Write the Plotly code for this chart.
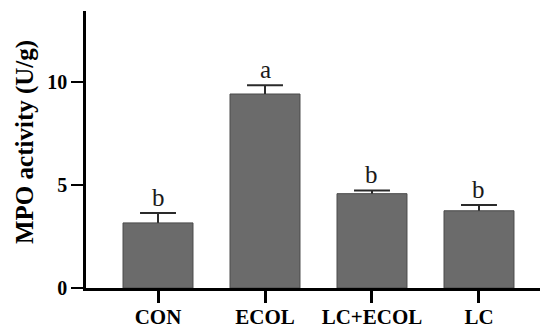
import plotly.graph_objects as go

categories = ["CON", "ECOL", "LC+ECOL", "LC"]
means = [3.16, 9.42, 4.58, 3.75]
errors = [0.48, 0.43, 0.16, 0.28]
letters = ["b", "a", "b", "b"]
y_ticks = [0, 5, 10]

# The page body has an 8px default margin, so the figure is sized/offset to compensate
W, H = 540, 320
L, R, T, B = 78, 0, 3, 40
CAP = 0.168  # half cap width in category units

fig = go.Figure()
fig.add_trace(go.Bar(
    x=list(range(len(categories))),
    y=means,
    width=0.654,
    marker=dict(color="#6b6b6b", line=dict(color="#4a4a4a", width=1)),
    showlegend=False,
))

# error bars (upper only) as line segments built from the data
ex, ey = [], []
for i, (m, e) in enumerate(zip(means, errors)):
    ex += [i, i, None, i - CAP, i + CAP, None]
    ey += [m, m + e, None, m + e, m + e, None]
fig.add_trace(go.Scatter(x=ex, y=ey, mode="lines",
                         line=dict(color="#2a2a2a", width=2),
                         showlegend=False, hoverinfo="skip"))

for i, (m, e, t) in enumerate(zip(means, errors, letters)):
    fig.add_annotation(x=i, y=m + e, text=t, showarrow=False,
                       xref="x", yref="y", yanchor="bottom", yshift=0,
                       font=dict(family="Liberation Serif", size=25, color="#1a1a1a"))

fig.add_annotation(x=(17 - L) / (W - L - R), y=(280 - 134) / (H - T - B),
                   xref="paper", yref="paper", text="<b>MPO activity (U/g)</b>",
                   textangle=-90, showarrow=False, xanchor="center", yanchor="middle",
                   font=dict(family="Liberation Serif", size=25, color="black"))

fig.update_layout(
    width=W, height=H,
    margin=dict(l=L, r=R, t=T, b=B, pad=0),
    plot_bgcolor="white", paper_bgcolor="white",
)
fig.update_xaxes(
    range=[-0.673, 3.645],
    tickmode="array", tickvals=list(range(len(categories))),
    ticktext=[f"<b>{c}</b>" for c in categories],
    showline=True, linecolor="black", linewidth=3,
    ticks="outside", ticklen=12, tickwidth=3, tickcolor="black",
    tickfont=dict(family="Liberation Serif", size=21, color="black"),
    ticklabelstandoff=-4,
    showgrid=False, zeroline=False, automargin=False,
)
fig.update_yaxes(
    range=[0, 13.45],
    tickmode="array", tickvals=y_ticks, ticktext=[f"<b>{v}</b>" for v in y_ticks],
    showline=True, linecolor="black", linewidth=2.5,
    ticks="outside", ticklen=12, tickwidth=2, tickcolor="black",
    tickfont=dict(family="Liberation Serif", size=20, color="black"),
    showgrid=False, zeroline=False, automargin=False,
)

fig.write_html("out.html")
